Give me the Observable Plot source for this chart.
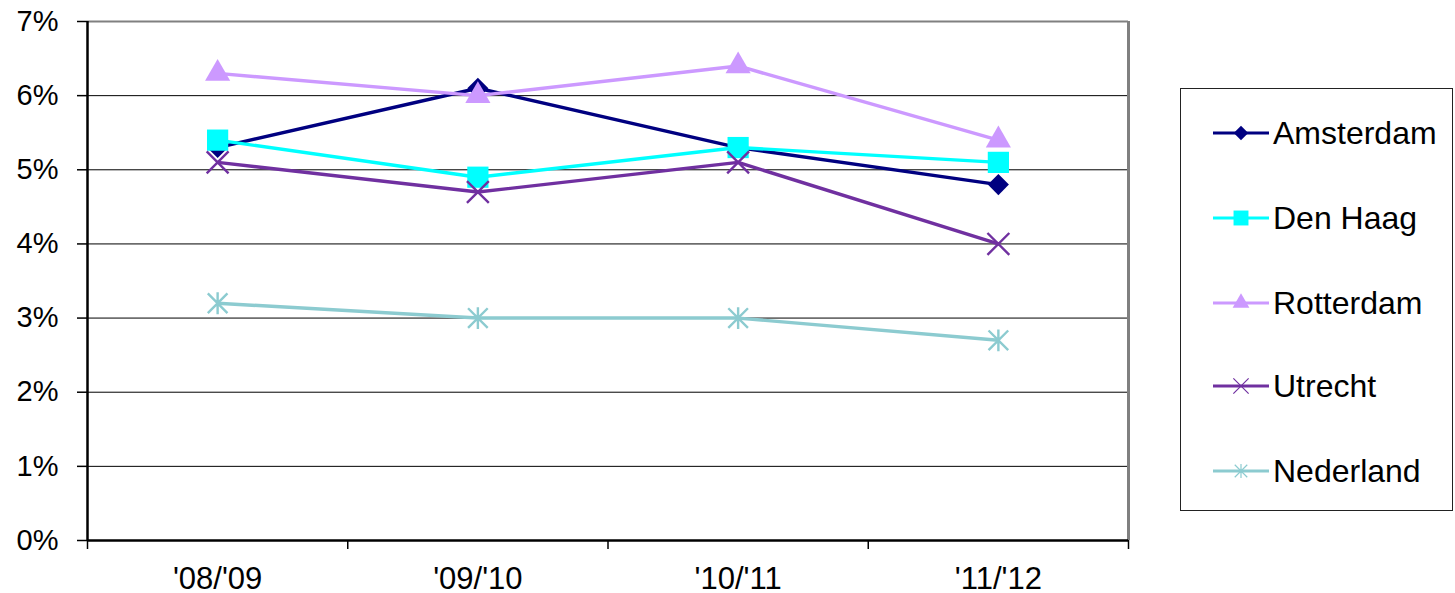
<!DOCTYPE html>
<html>
<head>
<meta charset="utf-8">
<script src="https://cdn.jsdelivr.net/npm/d3@7"></script>
<script src="https://cdn.jsdelivr.net/npm/@observablehq/plot@0.6"></script>
<style>
  html, body { margin: 0; padding: 0; background: #fff; }
  #wrap { position: relative; width: 1455px; height: 593px; font-family: "Liberation Sans", Arial, sans-serif; }
  #chart { position: absolute; left: 0; top: 0; }
  #legend { position: absolute; left: 1180px; top: 88px; width: 273px; height: 423px; border: 1px solid #222; box-sizing: border-box; }
  .item { position: absolute; left: 32px; height: 40px; display: flex; align-items: center; font-size: 32px; color: #000; }
  .item svg { margin-right: 4px; }
</style>
</head>
<body>
<div id="wrap"><div id="chart"></div><div id="legend"></div></div>
<script>
const categories = ["'08/'09", "'09/'10", "'10/'11", "'11/'12"];
const seriesNames = ["Amsterdam", "Den Haag", "Rotterdam", "Utrecht", "Nederland"];
const amsterdam = [5.3, 6.1, 5.3, 4.8];
const denHaag = [5.4, 4.9, 5.3, 5.1];
const rotterdam = [6.3, 6.0, 6.4, 5.4];
const utrecht = [5.1, 4.7, 5.1, 4.0];
const nederland = [3.2, 3.0, 3.0, 2.7];
const yTicks = [0, 1, 2, 3, 4, 5, 6, 7];
const colors = ["#000080", "#00ffff", "#cc99ff", "#7030a0", "#8ccbd0"];

const seriesValues = [amsterdam, denHaag, rotterdam, utrecht, nederland];

// custom Excel-like star marker: X plus vertical line
const starSymbol = {
  draw(context, size) {
    const r = Math.sqrt(size) * 0.56;
    const d = r * 0.9;
    context.moveTo(0, -r); context.lineTo(0, r);
    context.moveTo(-d, -d); context.lineTo(d, d);
    context.moveTo(-d, d); context.lineTo(d, -d);
  }
};

const markerSpec = [
  {symbol: "diamond2", r: 9.5, filled: true, lr: 6.5},
  {symbol: "square2", r: 13.5, filled: true, lr: 9.5},
  {symbol: "triangle2", r: 12, filled: true, lr: 8},
  {symbol: "times", r: 10, filled: false, lr: 7},
  {symbol: starSymbol, r: 11, filled: false, lr: 7}
];

const rows = [];
seriesNames.forEach((name, s) => {
  seriesValues[s].forEach((v, i) => rows.push({series: name, s, xi: i + 0.5, cat: categories[i], value: v / 100}));
});

const marks = [
  Plot.ruleY(yTicks.slice(1, 7).map(t => t / 100), {stroke: "#000", strokeWidth: 1}),
  Plot.ruleY([0.07], {stroke: "#808080", strokeWidth: 2}),
  Plot.ruleX([4], {stroke: "#808080", strokeWidth: 3}),
  Plot.axisY(yTicks.map(t => t / 100), {tickFormat: d3.format(".0%"), tickSize: 10, tickPadding: 19, fontSize: 29, stroke: "#000", strokeWidth: 1.5, label: null}),
  Plot.axisX([0, 1, 2, 3, 4], {tickSize: 9, tickFormat: () => "", stroke: "#000", strokeWidth: 1.5, label: null}),
  Plot.axisX(categories.map((c, i) => i + 0.5), {tickSize: 0, tickPadding: 26, tickFormat: d => categories[Math.floor(d)], fontSize: 31, label: null}),
];

seriesNames.forEach((name, s) => {
  const data = rows.filter(d => d.s === s);
  const m = markerSpec[s];
  marks.push(Plot.line(data, {x: "xi", y: "value", stroke: colors[s], strokeWidth: 3.4}));
  marks.push(Plot.dot(data, m.filled
    ? {x: "xi", y: "value", symbol: () => m.symbol, r: m.r, fill: colors[s], stroke: "none"}
    : {x: "xi", y: "value", symbol: () => m.symbol, r: m.r, fill: "none", stroke: colors[s], strokeWidth: 2.4}));
});

marks.push(Plot.ruleX([0], {stroke: "#000", strokeWidth: 2.5}));
marks.push(Plot.ruleY([0], {stroke: "#000", strokeWidth: 2.5}));

const chart = Plot.plot({
  width: 1160,
  height: 593,
  marginLeft: 87,
  marginRight: 32,
  marginTop: 21,
  marginBottom: 53,
  style: {fontFamily: "'Liberation Sans', Arial, sans-serif", fontSize: "28px", color: "#000", background: "#fff", overflow: "visible"},
  x: {type: "linear", domain: [0, 4], axis: null},
  y: {type: "linear", domain: [0, 0.07], axis: null},
  symbol: {type: "identity"},
  marks
});
document.getElementById("chart").appendChild(chart);

// legend
const legend = document.getElementById("legend");
const legendTops = [24, 109, 194, 277, 362];
seriesNames.forEach((name, s) => {
  const item = document.createElement("div");
  item.className = "item";
  item.style.top = legendTops[s] + "px";
  const m = markerSpec[s];
  const sym = typeof m.symbol === "string"
    ? {diamond2: d3.symbolDiamond2, square2: d3.symbolSquare2, triangle2: d3.symbolTriangle2, times: d3.symbolTimes}[m.symbol]
    : m.symbol;
  const size = Math.PI * m.lr * m.lr;
  const path = d3.symbol(sym, size)();
  const svgNS = "http://www.w3.org/2000/svg";
  const svg = document.createElementNS(svgNS, "svg");
  svg.setAttribute("width", 56); svg.setAttribute("height", 28);
  svg.innerHTML = `<line x1="0" x2="56" y1="14" y2="14" stroke="${colors[s]}" stroke-width="3"/>` +
    `<path transform="translate(28,14)" d="${path}" fill="${m.filled ? colors[s] : "none"}" stroke="${m.filled ? "none" : colors[s]}" stroke-width="1.2"/>`;
  item.appendChild(svg);
  const span = document.createElement("span");
  span.textContent = name;
  item.appendChild(span);
  legend.appendChild(item);
});
</script>
</body>
</html>
